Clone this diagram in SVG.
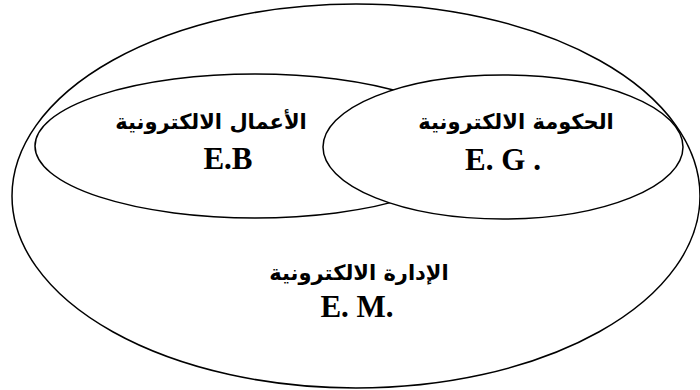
<svg xmlns="http://www.w3.org/2000/svg" width="700" height="390" viewBox="0 0 700 390">
<style>
.sh{fill:#fff;stroke:#000;stroke-width:1.5}
.ar{font-family:"DejaVu Sans",sans-serif;font-weight:bold;font-size:21px;fill:#000;text-anchor:middle}
.la{font-family:"Liberation Serif",serif;font-weight:bold;font-size:31px;fill:#000;text-anchor:middle}
</style>
<rect width="700" height="390" fill="#fff"/>
<g id="outer">
<ellipse class="sh" cx="356" cy="196" rx="344" ry="192"/>
<text class="ar" x="359" y="280" direction="rtl">الإدارة الالكترونية</text>
<text class="la" x="357" y="317">E. M.</text>
</g>
<g id="business">
<ellipse class="sh" cx="255" cy="146" rx="220" ry="72"/>
<text class="ar" x="211" y="129" direction="rtl">الأعمال الالكترونية</text>
<text class="la" x="228" y="169">E.B</text>
</g>
<g id="government">
<ellipse class="sh" cx="503" cy="147" rx="180" ry="72"/>
<text class="ar" x="516" y="129" direction="rtl">الحكومة الالكترونية</text>
<text class="la" x="503" y="170">E. G .</text>
</g>
</svg>
